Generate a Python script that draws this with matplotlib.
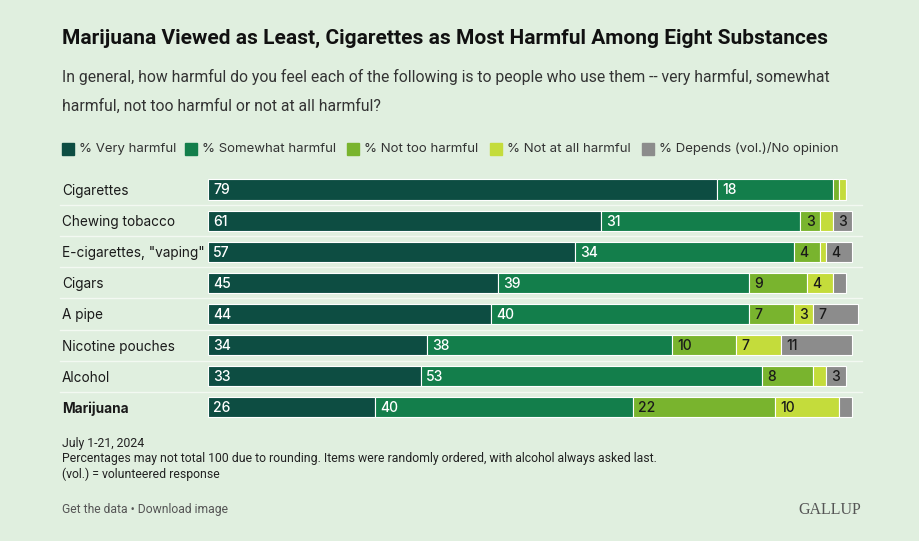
import matplotlib.pyplot as plt
import numpy as np

# Data
items = ['Cigarettes', 'Chewing tobacco', 'E-cigarettes, "vaping"', 'Cigars',
         'A pipe', 'Nicotine pouches', 'Alcohol', 'Marijuana']
series = ['% Very harmful', '% Somewhat harmful', '% Not too harmful',
          '% Not at all harmful', '% Depends (vol.)/No opinion']
very_harmful = [79, 61, 57, 45, 44, 34, 33, 26]
somewhat_harmful = [18, 31, 34, 39, 40, 38, 53, 40]
not_too_harmful = [1, 3, 4, 9, 7, 10, 8, 22]
not_at_all_harmful = [1, 2, 1, 4, 3, 7, 2, 10]
depends = [0, 3, 4, 2, 7, 11, 3, 2]

colors = ['#0d4d42', '#137e4b', '#79b42e', '#c4dc3b', '#8c8c8c']
label_colors = ['white', 'white', '#1a1a1a', '#1a1a1a', '#1a1a1a']
bg = '#e0efdf'

W, H = 919, 541
fig = plt.figure(figsize=(W / 100, H / 100), dpi=100, facecolor=bg)

def fx(px):
    return px / W

def fy(py):
    return 1 - py / H

# Axes placed so that value 0 sits at x=208px, 6.44 px per percentage point
x0, x1 = 208, 868
top, row_h = 174, 31.1
bottom = top + row_h * len(items)
ax = fig.add_axes([fx(x0), fy(bottom), fx(x1 - x0), (bottom - top) / H])
ax.set_facecolor(bg)
ax.set_xlim(0, (x1 - x0) / 6.44)
ax.set_ylim(len(items) - 0.5, -0.5)
ax.axis('off')

y = np.arange(len(items))
data = [very_harmful, somewhat_harmful, not_too_harmful, not_at_all_harmful, depends]
left = np.zeros(len(items))
for vals, col, lcol in zip(data, colors, label_colors):
    vals = np.array(vals, dtype=float)
    ax.barh(y, vals, left=left, height=0.65, color=col, edgecolor='white',
            linewidth=0.8, clip_on=False)
    for yi, (l, v) in enumerate(zip(left, vals)):
        if v >= 3:
            ax.text(l + 0.8, yi + 0.03, f'{int(v)}', color=lcol, fontsize=10,
                    ha='left', va='center', fontweight='medium',
                    family=['Inter', 'DejaVu Sans'])
    left += vals

# Row separators
for i in range(1, len(items)):
    yy = fy(top + row_h * i)
    fig.add_artist(plt.Line2D([fx(60), fx(862)], [yy, yy], color='#f3f9f2', lw=1))

# Category labels
for i, name in enumerate(items):
    fig.text(fx(62), fy(top + 1.5 + row_h * (i + 0.5)), name, ha='left', va='center',
             fontsize=9.8, color='#1a1a1a', family=['Inter', 'DejaVu Sans'],
             fontweight='bold' if name == 'Marijuana' else 'normal')

# Title and subtitle
fig.text(fx(62), fy(38), 'Marijuana Viewed as Least, Cigarettes as Most Harmful Among Eight Substances',
         ha='left', va='center', fontsize=15, fontweight='bold', color='#111111',
         family=['Roboto', 'DejaVu Sans'])
fig.text(fx(62), fy(77), 'In general, how harmful do you feel each of the following is to people who use them -- very harmful, somewhat',
         ha='left', va='center', fontsize=11.3, color='#333333', family=['Roboto', 'DejaVu Sans'])
fig.text(fx(62), fy(106), 'harmful, not too harmful or not at all harmful?',
         ha='left', va='center', fontsize=11.3, color='#333333', family=['Roboto', 'DejaVu Sans'])

# Legend
sq_x = [62, 185, 347, 490, 642]
for sx, col, lab in zip(sq_x, colors, series):
    fig.add_artist(plt.Rectangle((fx(sx), fy(155)), fx(12), 12 / H, color=col,
                                 transform=fig.transFigure))
    fig.text(fx(sx + 17), fy(149), lab, ha='left', va='center', fontsize=9.5,
             color='#333333', family=['Inter', 'DejaVu Sans'])

# Footer
foot = ['July 1-21, 2024',
        'Percentages may not total 100 due to rounding. Items were randomly ordered, with alcohol always asked last.',
        '(vol.) = volunteered response']
for i, line in enumerate(foot):
    fig.text(fx(62), fy(443 + 15.5 * i), line, ha='left', va='center', fontsize=8.8,
             color='#222222', family=['Roboto', 'DejaVu Sans'])
fig.text(fx(62), fy(510), 'Get the data \u2022 Download image', ha='left', va='center',
         fontsize=8.7, color='#555555', family=['Roboto', 'DejaVu Sans'])
fig.text(fx(861), fy(510), 'GALLUP', ha='right', va='center', fontsize=11.5,
         color='#555555', family=['Liberation Serif', 'DejaVu Serif'])

fig.savefig('out.png', dpi=100, facecolor=bg)
